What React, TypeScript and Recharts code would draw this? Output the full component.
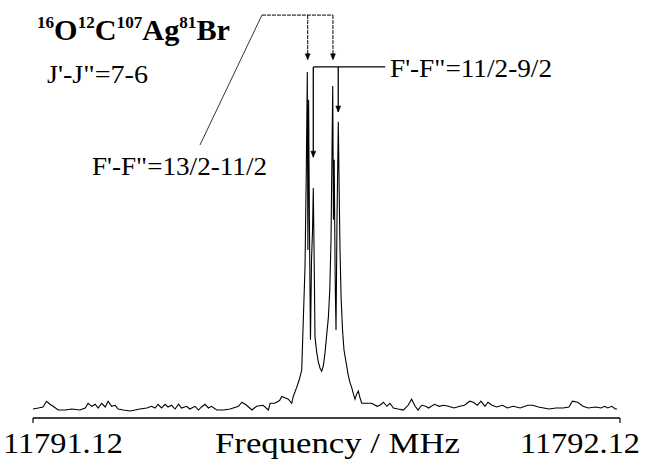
import React from "react";
import { LineChart, Line, XAxis, YAxis, ReferenceLine, ReferenceDot } from "recharts";

/* ── Spectrum: frequency offset (kHz from 11791.12 MHz) vs intensity ── */

const FREQ_OFFSET_KHZ = [
  0, 9, 17, 23, 29, 36, 43, 55, 66, 80,
  89, 94, 100, 106, 111, 117, 123, 128, 134, 140,
  145, 154, 165, 174, 182, 194, 202, 208, 213, 219,
  225, 230, 236, 242, 248, 253, 262, 267, 276, 282,
  287, 293, 299, 304, 313, 324, 336, 341, 350, 356,
  364, 373, 381, 392, 401, 404, 412, 420, 424, 429,
  435, 440.7, 443.4, 449.2, 453.2, 457.8, 460.5, 463.4, 465.6, 467.3,
  468.3, 469.5, 471.0, 472.7, 474.5, 476.2, 477.5, 479.0, 480.4, 483.3,
  486.0, 488.9, 491.8, 494.6, 497.4, 500.3, 503.1, 505.6, 507.7, 509.4,
  510.6, 511.8, 513.1, 514.8, 516.2, 517.9, 520.1, 521.6, 523.0, 525.0,
  527.3, 529.8, 533.2, 537.1, 540.0, 542.9, 546.0, 548.5, 551.1, 554.2,
  557.1, 560.0, 568, 577, 586, 591, 597, 603, 608, 614,
  622, 631, 639, 645, 651, 656, 662, 669, 674, 684,
  692, 699, 708, 717, 727, 735, 744, 750, 757, 763,
  770, 775, 782, 790, 800, 808, 818, 830, 843, 851,
  861, 870, 879, 891, 903, 913, 919, 928, 937, 946,
  958, 968, 974, 979, 986, 992, 995,
];

const INTENSITY = [
  0, 0.3, 0.6, 2.3, 1.4, 0.6, -0.3, -0.3, 0, -0.3,
  0.3, 1.7, 0.8, 1.4, 0.3, 1.7, 0.6, 2.3, 0.8, 1.1,
  0, -0.3, -0.6, -0.3, 0, 0.3, 0.8, 0.3, 1.4, 0.3,
  1.4, 0.6, 1.1, 0, 1.4, 0.3, 0.8, 0, 0.8, -0.3,
  0.6, 1.4, 0.3, 0.8, -0.3, -0.3, 0, 0.3, 0.8, 2.0,
  1.1, -0.3, 0.8, 1.1, -0.3, 1.7, 1.7, 2.5, 3.7, 3.3,
  2.9, 1.7, 3.7, 6.4, 8.4, 11.5, 26.3, 41.9, 70.5, 99.4,
  46.9, 91.2, 52.8, 20.4, 44, 52.8, 65.2, 44, 21.2, 16.8,
  13.9, 12.1, 11.1, 12.7, 16.5, 21.8, 26.8, 35.1, 49.9, 76.4,
  95.3, 55.8, 73.5, 38.1, 23.3, 55.8, 84.7, 64.6, 46.9, 32.2,
  23.3, 17.4, 13.9, 9.9, 7.8, 6.4, 4.3, 2.9, 4.3, 5.3,
  3.3, 1.7, 1.7, 1.7, 0.8, 1.1, 2.0, 0.8, 1.7, 0.3,
  0, -0.3, 1.1, 2.9, 0.8, -0.3, 1.1, 0.8, 0.3, 1.4,
  0.8, 1.1, 0.8, 0.3, 0.8, 1.1, 2.3, 2.0, 1.1, 2.3,
  0.8, 2.0, 1.1, 0.6, 1.1, 0.3, 0.8, 0.3, 1.1, 1.1,
  0.6, 0.3, 0, 0.3, 0.3, 0.6, 2.3, 2.0, 0.8, 0.3,
  0.6, 0.3, 0.8, 0.3, 0.8, 0, 0,
];

const TICK_VALUES = [0, 1000];
const TICK_LABELS = ["11791.12", "11792.12"];

/* ── Hyperfine annotations (data coords) ── */
// bracket for F'-F"=13/2-11/2
const BRACKET_A = { y: 116.2, x1: 390, x2: 511, leaderTo: { x: 284.5, y: 77.9 } };
const ARROWS_A = [
  { x: 468, y1: 116.2, y2: 103 },
  { x: 511, y1: 116.2, y2: 103 },
];
// bracket for F'-F"=11/2-9/2
const BRACKET_B = { y: 100.9, x1: 477.5, x2: 600 };
const ARROWS_B = [
  { x: 477.5, y1: 100.9, y2: 74.3 },
  { x: 520, y1: 100.9, y2: 87.6 },
];

const data = FREQ_OFFSET_KHZ.map((f, i) => ({ f, v: INTENSITY[i] ?? 0 }));

const FONT = "'Liberation Serif', 'DejaVu Serif', serif";

function ArrowHead(props: { cx?: number; cy?: number }) {
  const { cx = 0, cy = 0 } = props;
  return (
    <path
      d={`M${cx - 2.5},${cy - 6} L${cx},${cy} L${cx + 2.5},${cy - 6} Z`}
      fill="#000"
      stroke="#000"
      strokeWidth={0.5}
    />
  );
}

function AxisTick(props: any) {
  const { x, payload } = props;
  const idx = TICK_VALUES.indexOf(payload.value);
  const label = TICK_LABELS[idx] ?? "";
  return (
    <text
      x={idx === 0 ? x - 30 : x + 20}
      y={453}
      textAnchor={idx === 0 ? "start" : "end"}
      textLength={120}
      lengthAdjust="spacingAndGlyphs"
      style={{ fontFamily: FONT, fontSize: 30 }}
      fill="#000"
    >
      {label}
    </text>
  );
}

export default function App() {
  return (
    <div
      style={{
        position: "absolute",
        left: 0,
        top: 0,
        width: 645,
        height: 468,
        background: "#fff",
      }}
    >
      <LineChart
        width={645}
        height={468}
        data={data}
        margin={{ top: 10, right: 25, bottom: 0, left: 33 }}
      >
        <XAxis
          dataKey="f"
          type="number"
          domain={[0, 1000]}
          ticks={TICK_VALUES}
          height={50}
          axisLine={{ stroke: "#000", strokeWidth: 1.5 }}
          tickLine={{ stroke: "#000", strokeWidth: 1.2 }}
          tickSize={5}
          tick={<AxisTick />}
          interval={0}
        />
        <YAxis type="number" domain={[-2.65, 117.7]} hide />

        <ReferenceLine
          segment={[
            { x: BRACKET_A.x1, y: BRACKET_A.y },
            { x: BRACKET_A.x2, y: BRACKET_A.y },
          ]}
          stroke="#000"
          strokeWidth={1}
          strokeDasharray="4 1"
          ifOverflow="visible"
        />
        <ReferenceLine
          segment={[
            { x: BRACKET_A.x1, y: BRACKET_A.y },
            { x: BRACKET_A.leaderTo.x, y: BRACKET_A.leaderTo.y },
          ]}
          stroke="#000"
          strokeWidth={0.8}
          ifOverflow="visible"
        />
        {ARROWS_A.map((a, i) => (
          <ReferenceLine
            key={`a${i}`}
            segment={[
              { x: a.x, y: a.y1 },
              { x: a.x, y: a.y2 },
            ]}
            stroke="#000"
            strokeWidth={1}
            strokeDasharray="4 1"
            ifOverflow="visible"
          />
        ))}
        {ARROWS_A.map((a, i) => (
          <ReferenceDot
            key={`ah${i}`}
            x={a.x}
            y={a.y2}
            r={3}
            ifOverflow="visible"
            shape={<ArrowHead />}
          />
        ))}

        <ReferenceLine
          segment={[
            { x: BRACKET_B.x1, y: BRACKET_B.y },
            { x: BRACKET_B.x2, y: BRACKET_B.y },
          ]}
          stroke="#000"
          strokeWidth={1.3}
          ifOverflow="visible"
        />
        {ARROWS_B.map((a, i) => (
          <ReferenceLine
            key={`b${i}`}
            segment={[
              { x: a.x, y: a.y1 },
              { x: a.x, y: a.y2 },
            ]}
            stroke="#000"
            strokeWidth={1.3}
            ifOverflow="visible"
          />
        ))}
        {ARROWS_B.map((a, i) => (
          <ReferenceDot
            key={`bh${i}`}
            x={a.x}
            y={a.y2}
            r={3}
            ifOverflow="visible"
            shape={<ArrowHead />}
          />
        ))}

        <Line
          type="linear"
          dataKey="v"
          stroke="#000"
          strokeWidth={1.1}
          dot={false}
          isAnimationActive={false}
        />
      </LineChart>

      <svg
        width={645}
        height={468}
        style={{ position: "absolute", left: 0, top: 0, pointerEvents: "none", fontFamily: FONT }}
      >
        <text
          x={37}
          y={40}
          fontWeight="bold"
          fill="#000"
          fontSize={30}
          textLength={193}
          lengthAdjust="spacingAndGlyphs"
        >
          <tspan fontSize={17} dy={-12}>16</tspan>
          <tspan dy={12}>O</tspan>
          <tspan fontSize={17} dy={-12}>12</tspan>
          <tspan dy={12}>C</tspan>
          <tspan fontSize={17} dy={-12}>107</tspan>
          <tspan dy={12}>Ag</tspan>
          <tspan fontSize={17} dy={-12}>81</tspan>
          <tspan dy={12}>Br</tspan>
        </text>
        <text x={47} y={83} fontSize={25} fill="#000" textLength={101} lengthAdjust="spacingAndGlyphs">
          J'-J"=7-6
        </text>
        <text x={390} y={77} fontSize={25} fill="#000" textLength={162} lengthAdjust="spacingAndGlyphs">
          F'-F"=11/2-9/2
        </text>
        <text x={92} y={175} fontSize={25} fill="#000" textLength={175} lengthAdjust="spacingAndGlyphs">
          F'-F"=13/2-11/2
        </text>
        <text x={215} y={453} fontSize={30} fill="#000" textLength={245} lengthAdjust="spacingAndGlyphs">
          Frequency / MHz
        </text>
      </svg>
    </div>
  );
}
